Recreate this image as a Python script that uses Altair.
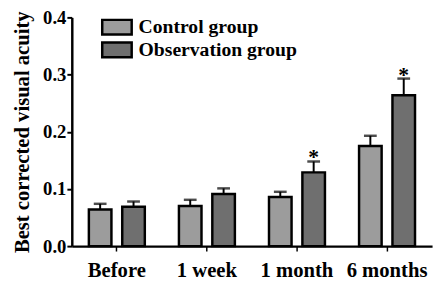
import altair as alt
import pandas as pd

time_points = ["Before", "1 week", "1 month", "6 months"]
groups = ["Control group", "Observation group"]
control_mean = [0.064, 0.070, 0.086, 0.175]
control_err = [0.010, 0.011, 0.009, 0.018]
obs_mean = [0.069, 0.091, 0.129, 0.264]
obs_err = [0.009, 0.010, 0.019, 0.029]
obs_star = ["", "", "*", "*"]

rows = []
for i, t in enumerate(time_points):
    rows.append({"time": t, "group": groups[0], "mean": control_mean[i],
                 "upper": control_mean[i] + control_err[i], "star": ""})
    rows.append({"time": t, "group": groups[1], "mean": obs_mean[i],
                 "upper": obs_mean[i] + obs_err[i], "star": obs_star[i]})
df = pd.DataFrame(rows)

FONT = "Liberation Serif"

x = alt.X("time:N", sort=time_points, title=None,
          scale=alt.Scale(paddingInner=0, paddingOuter=0),
          axis=alt.Axis(labelAngle=0, labelFontSize=21, labelPadding=9,
                        tickSize=5, tickWidth=1.5, domainWidth=2.5))
xoff = alt.XOffset("group:N", sort=groups,
                   scale=alt.Scale(paddingInner=0.324, paddingOuter=0.511))
y_scale = alt.Scale(domain=[0, 0.4], nice=False)

bars = alt.Chart(df).mark_bar(stroke="black", strokeWidth=2.5).encode(
    x=x,
    xOffset=xoff,
    y=alt.Y("mean:Q", scale=y_scale, title="Best corrected visual acuity",
            axis=alt.Axis(values=[0, 0.1, 0.2, 0.3, 0.4], format=".1f",
                          labelFontSize=19, labelPadding=1, titleFontSize=21, titlePadding=10,
                          tickSize=5, tickWidth=2, domainWidth=2.5)),
    fill=alt.Fill("group:N", sort=groups,
                  scale=alt.Scale(domain=groups, range=["#9c9c9c", "#6f6f6f"]),
                  legend=alt.Legend(title=None, orient="none", legendX=36, legendY=0,
                                    symbolType="M-2,-1H2V1H-2Z", symbolSize=225,
                                    symbolStrokeColor="black", symbolStrokeWidth=2.5,
                                    labelFontSize=20, labelFont=FONT, labelLimit=400,
                                    labelFontWeight="bold", labelColor="black",
                                    labelOffset=12, rowPadding=-4)),
)

err = alt.Chart(df).mark_rule(color="black", strokeWidth=2).encode(
    x=x, xOffset=xoff, y=alt.Y("mean:Q", scale=y_scale), y2="upper:Q")

caps = alt.Chart(df).mark_tick(color="black", thickness=2.5, size=13, orient="horizontal").encode(
    x=x, xOffset=xoff, y=alt.Y("upper:Q", scale=y_scale))

stars = alt.Chart(df).mark_text(font=FONT, fontWeight="bold", fontSize=22,
                                baseline="alphabetic", dy=3, color="black").encode(
    x=x, xOffset=xoff, y=alt.Y("upper:Q", scale=y_scale), text="star:N")

chart = alt.layer(bars, err, caps, stars).properties(
    width=367, height=233,
    autosize=alt.AutoSizeParams(type="none"),
    padding={"left": 65, "top": 7, "right": 4, "bottom": 36},
).configure(background="white").configure_view(stroke=None).configure_axis(
    labelFont=FONT, labelFontWeight="bold", labelColor="black",
    titleFont=FONT, titleFontWeight="bold", titleColor="black",
    domainColor="black", tickColor="black", grid=False,
)

chart.save("out.html", embed_options={"renderer": "svg", "actions": False})
